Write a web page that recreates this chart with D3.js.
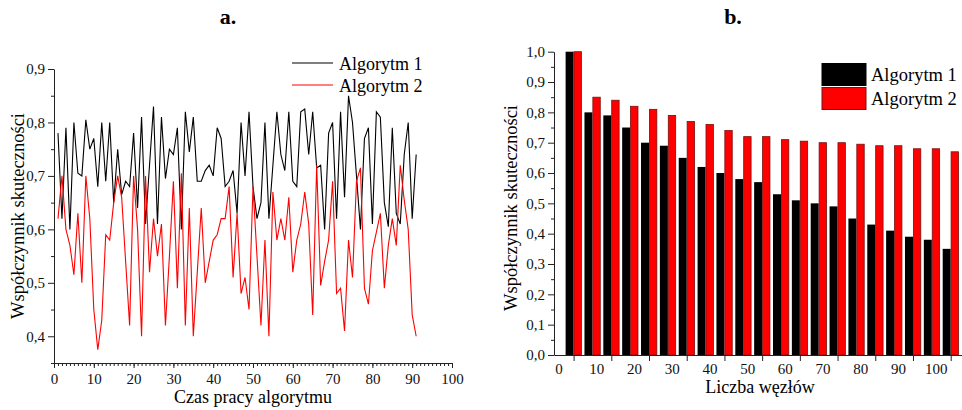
<!DOCTYPE html>
<html>
<head>
<meta charset="utf-8">
<script src="https://cdn.jsdelivr.net/npm/d3@7"></script>
<style>
  body { margin: 0; background: #fff; }
  svg { display: block; font-family: "Liberation Serif", "Times New Roman", serif; }
  .axis path, .axis line { stroke: #222; }
  .axis text { font-size: 15px; fill: #111; font-family: "Liberation Serif", serif; }
</style>
</head>
<body>
<svg id="chart" width="962" height="410"></svg>
<script>
// chart a: values over time
const timeSteps = d3.range(1, 92)
const alg1Run = [
  0.78, 0.62, 0.79, 0.60, 0.80, 0.705, 0.70, 0.805, 0.75, 0.77,
  0.68, 0.80, 0.69, 0.80, 0.65, 0.75, 0.665, 0.69, 0.68, 0.78,
  0.64, 0.81, 0.61, 0.72, 0.83, 0.61, 0.81, 0.695, 0.75, 0.74,
  0.79, 0.60, 0.82, 0.745, 0.81, 0.69, 0.69, 0.71, 0.72, 0.70,
  0.79, 0.77, 0.68, 0.69, 0.71, 0.63, 0.80, 0.70, 0.82, 0.68,
  0.62, 0.65, 0.80, 0.62, 0.72, 0.82, 0.74, 0.71, 0.82, 0.69,
  0.68, 0.82, 0.825, 0.74, 0.82, 0.715, 0.72, 0.60, 0.78, 0.80,
  0.62, 0.82, 0.66, 0.85, 0.80, 0.70, 0.60, 0.77, 0.79, 0.61,
  0.82, 0.81, 0.65, 0.605, 0.79, 0.63, 0.61, 0.74, 0.80, 0.62,
  0.74
]
const alg2Run = [
  0.62, 0.70, 0.60, 0.57, 0.515, 0.63, 0.50, 0.70, 0.62, 0.45,
  0.375, 0.43, 0.59, 0.58, 0.65, 0.70, 0.66, 0.54, 0.42, 0.70,
  0.60, 0.40, 0.70, 0.52, 0.62, 0.55, 0.61, 0.42, 0.55, 0.69,
  0.49, 0.705, 0.42, 0.64, 0.40, 0.52, 0.64, 0.50, 0.54, 0.58,
  0.59, 0.62, 0.62, 0.68, 0.51, 0.63, 0.48, 0.51, 0.45, 0.68,
  0.55, 0.42, 0.58, 0.40, 0.67, 0.58, 0.62, 0.58, 0.66, 0.52,
  0.58, 0.61, 0.67, 0.61, 0.44, 0.72, 0.495, 0.54, 0.58, 0.69,
  0.48, 0.49, 0.41, 0.58, 0.51, 0.69, 0.715, 0.49, 0.46, 0.56,
  0.595, 0.63, 0.49, 0.57, 0.62, 0.57, 0.72, 0.655, 0.60, 0.44,
  0.40
]

// chart b: values per node count
const nodeCounts = d3.range(0, 101, 5)
const alg1Nodes = [1.0, 0.80, 0.79, 0.75, 0.70, 0.69, 0.65, 0.62, 0.60, 0.58, 0.57,
  0.53, 0.51, 0.50, 0.49, 0.45, 0.43, 0.41, 0.39, 0.38, 0.35]
const alg2Nodes = [1.0, 0.85, 0.84, 0.82, 0.81, 0.79, 0.77, 0.76, 0.74, 0.72, 0.72,
  0.71, 0.705, 0.70, 0.70, 0.695, 0.69, 0.69, 0.68, 0.68, 0.67]

const seriesNames = ['Algorytm 1', 'Algorytm 2']
const seriesColors = ['#000', '#ff0000']

const comma = d => d3.format('.1f')(d).replace('.', ',')
const svg = d3.select('#chart')
const FONT = '"Liberation Serif", "Times New Roman", serif'

// ---------- a. ----------
const xA = d3.scaleLinear().domain([0, 100]).range([54, 452])
const yA = d3.scaleLinear().domain([0.35, 0.9]).range([363, 69])

svg.append('g')
  .attr('class', 'axis')
  .attr('transform', 'translate(0, 363)')
  .call(d3.axisBottom(xA).tickValues(d3.range(0, 101, 1)).tickSize(3).tickFormat(''))
  .call(g => g.select('.domain').remove())

svg.append('g')
  .attr('class', 'axis')
  .attr('transform', 'translate(0, 363)')
  .call(d3.axisBottom(xA).tickValues(d3.range(0, 101, 10)).tickSize(5).tickSizeOuter(0).tickPadding(5).tickFormat(d => d))

svg.append('g')
  .attr('class', 'axis')
  .attr('transform', 'translate(54, 0)')
  .call(d3.axisLeft(yA).tickValues(d3.range(0.35, 0.9, 0.1)).tickSize(3).tickFormat(''))
  .call(g => g.select('.domain').remove())

svg.append('g')
  .attr('class', 'axis')
  .attr('transform', 'translate(54, 0)')
  .call(d3.axisLeft(yA).tickValues([0.4, 0.5, 0.6, 0.7, 0.8, 0.9]).tickSize(6).tickSizeOuter(0).tickPadding(3).tickFormat(comma))

const lineA = d3.line()
  .x((d, i) => xA(timeSteps[i]))
  .y(d => yA(d))

;[alg1Run, alg2Run].forEach((run, k) => {
  svg.append('path')
    .attr('d', lineA(run))
    .attr('fill', 'none')
    .attr('stroke', seriesColors[k])
    .attr('stroke-width', 1.1)
    .attr('stroke-linejoin', 'miter')
})

const legA = svg.append('g').attr('transform', 'translate(292, 63)')
seriesNames.forEach((name, k) => {
  legA.append('line')
    .attr('x1', 0).attr('x2', 41)
    .attr('y1', k * 22).attr('y2', k * 22)
    .attr('stroke', seriesColors[k])
    .attr('stroke-width', 1.1)
  legA.append('text')
    .attr('x', 47).attr('y', k * 22 + 6.5)
    .attr('font-size', 18)
    .attr('font-family', FONT)
    .text(name)
})

svg.append('text')
  .attr('x', 253).attr('y', 403)
  .attr('text-anchor', 'middle')
  .attr('font-size', 18)
  .attr('font-family', FONT)
  .text('Czas pracy algorytmu')

svg.append('text')
  .attr('transform', 'translate(24, 216) rotate(-90)')
  .attr('text-anchor', 'middle')
  .attr('font-size', 18.5)
  .attr('font-family', FONT)
  .text('Współczynnik skuteczności')

svg.append('text')
  .attr('x', 228).attr('y', 24)
  .attr('text-anchor', 'middle')
  .attr('font-size', 22)
  .attr('font-weight', 'bold')
  .attr('font-family', FONT)
  .text('a.')

// ---------- b. ----------
const xB = d3.scaleLinear().domain([-5.2, 103]).range([554, 962])
const yB = d3.scaleLinear().domain([0, 1]).range([355, 51.7])
const barW = 8

svg.append('g')
  .attr('class', 'axis')
  .attr('transform', 'translate(554, 0)')
  .call(d3.axisLeft(yB).tickValues(d3.range(0.05, 1, 0.1)).tickSize(3).tickFormat(''))
  .call(g => g.select('.domain').remove())

svg.append('g')
  .attr('class', 'axis')
  .attr('transform', 'translate(554, 0)')
  .call(d3.axisLeft(yB).tickValues(d3.range(0, 1.01, 0.1)).tickSize(6).tickSizeOuter(0).tickPadding(3).tickFormat(comma))

svg.append('g')
  .attr('class', 'bars-1')
  .selectAll('rect')
  .data(alg1Nodes)
  .join('rect')
  .attr('x', (d, i) => xB(nodeCounts[i]) - barW)
  .attr('y', d => yB(d))
  .attr('width', barW)
  .attr('height', d => yB(0) - yB(d))
  .attr('fill', '#000')

svg.append('g')
  .attr('class', 'bars-2')
  .selectAll('rect')
  .data(alg2Nodes)
  .join('rect')
  .attr('x', (d, i) => xB(nodeCounts[i]) + 0.4)
  .attr('y', d => yB(d))
  .attr('width', barW - 0.6)
  .attr('height', d => yB(0) - yB(d))
  .attr('fill', '#ff0000')
  .attr('stroke', '#7a1010')
  .attr('stroke-width', 0.8)

svg.append('g')
  .attr('class', 'axis')
  .attr('transform', 'translate(0, 355)')
  .call(d3.axisBottom(xB).tickValues(d3.range(0, 101, 10)).tickSize(6).tickSizeOuter(0).tickPadding(2.5).tickFormat(d => d))
  .call(g => g.selectAll('.tick text').attr('dx', -15))

const legB = svg.append('g').attr('transform', 'translate(822, 63.5)')
seriesNames.forEach((name, k) => {
  legB.append('rect')
    .attr('x', 0).attr('y', k * 24)
    .attr('width', 44).attr('height', 22)
    .attr('fill', seriesColors[k])
    .attr('stroke', k ? '#7a1010' : '#000')
    .attr('stroke-width', 1)
  legB.append('text')
    .attr('x', 49).attr('y', k * 24 + 17)
    .attr('font-size', 18.5)
    .attr('font-family', FONT)
    .text(name)
})

svg.append('text')
  .attr('x', 760).attr('y', 393)
  .attr('text-anchor', 'middle')
  .attr('font-size', 18)
  .attr('font-family', FONT)
  .text('Liczba węzłów')

svg.append('text')
  .attr('transform', 'translate(517, 208) rotate(-90)')
  .attr('text-anchor', 'middle')
  .attr('font-size', 18.5)
  .attr('font-family', FONT)
  .text('Współczynnik skuteczności')

svg.append('text')
  .attr('x', 733).attr('y', 24)
  .attr('text-anchor', 'middle')
  .attr('font-size', 22)
  .attr('font-weight', 'bold')
  .attr('font-family', FONT)
  .text('b.')
</script>
</body>
</html>
